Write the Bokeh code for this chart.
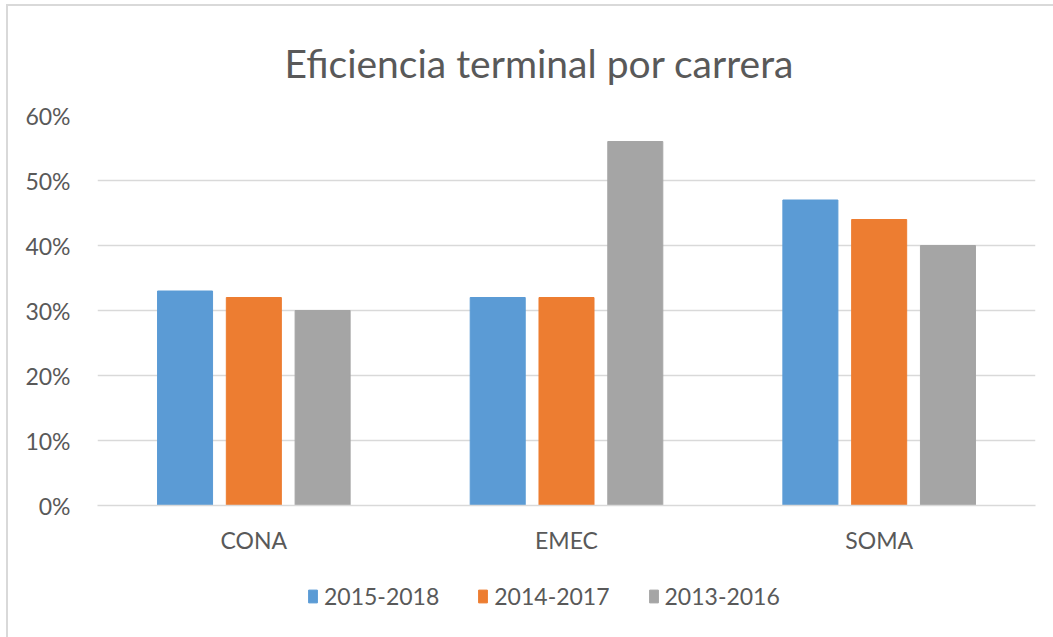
from bokeh.plotting import figure
from bokeh.layouts import column
from bokeh.models import (ColumnDataSource, FactorRange, Range1d, NumeralTickFormatter,
                          Legend, LegendItem, FixedTicker)
from bokeh.transform import dodge
from bokeh.embed import file_html
from bokeh.resources import INLINE

# ---- data ----
categories = ["CONA", "EMEC", "SOMA"]
series_names = ["2015-2018", "2014-2017", "2013-2016"]
s2015_2018 = [0.33, 0.32, 0.47]
s2014_2017 = [0.32, 0.32, 0.44]
s2013_2016 = [0.30, 0.56, 0.40]
y_ticks = [0.0, 0.1, 0.2, 0.3, 0.4, 0.5, 0.6]

colors = ["#5B9BD5", "#ED7D31", "#A5A5A5"]
FONT = "Lato"
TXT = "#595959"

src = ColumnDataSource(dict(cat=categories, s1=s2015_2018, s2=s2014_2017, s3=s2013_2016))
cols = ["s1", "s2", "s3"]
offsets = [-0.22, 0.0, 0.22]

p = figure(x_range=FactorRange(factors=categories, range_padding=0),
           y_range=Range1d(0, 0.6),
           width=1045, height=560,
           output_backend="svg", toolbar_location=None,
           min_border_left=89, min_border_right=18,
           min_border_top=109, min_border_bottom=61)

p.title.text = "Eficiencia terminal por carrera"
p.title.align = "left"
p.title.offset = 187
p.title.text_font = FONT
p.title.text_font_size = "39px"
p.title.text_font_style = "normal"
p.title.text_color = TXT
p.title.standoff = 60

for off, col, c in zip(offsets, cols, colors):
    p.vbar(x=dodge("cat", off, range=p.x_range), top=col, width=0.176,
           source=src, fill_color=c, line_color=c)

p.outline_line_color = None
p.xgrid.grid_line_color = None
p.ygrid.grid_line_color = "#d9d9d9"
p.ygrid.grid_line_width = 1.5
p.yaxis.ticker = FixedTicker(ticks=y_ticks)
p.yaxis.formatter = NumeralTickFormatter(format="0%")
p.yaxis.axis_line_color = None
p.yaxis.major_tick_line_color = None
p.yaxis.minor_tick_line_color = None
p.yaxis.major_label_standoff = 21
p.xaxis.axis_line_color = "#d9d9d9"
p.xaxis.axis_line_width = 1.5
p.xaxis.major_tick_line_color = None
p.xaxis.minor_tick_line_color = None
p.xaxis.major_label_standoff = 14
for ax in (p.xaxis[0], p.yaxis[0]):
    ax.major_label_text_font = FONT
    ax.major_label_text_font_size = "23px"
    ax.major_label_text_color = TXT

# ---- legend strip: same bars, drawn below its visible window, only swatches show ----
lp = figure(width=1045, height=71,
            x_range=FactorRange(factors=categories, range_padding=0),
            y_range=Range1d(1, 2),
            output_backend="svg", toolbar_location=None,
            min_border=0, outline_line_color=None)
lp.axis.visible = False
lp.grid.visible = False
sw = [lp.vbar(x=dodge("cat", off, range=lp.x_range), top=col, width=0.176,
              source=src, fill_color=c, line_color=c)
      for off, col, c in zip(offsets, cols, colors)]
legend = Legend(items=[LegendItem(label=n, renderers=[r]) for n, r in zip(series_names, sw)],
                orientation="horizontal", location=(210, 27))
legend.border_line_color = None
legend.background_fill_alpha = 0
legend.label_text_font = FONT
legend.label_text_font_size = "23px"
legend.label_text_color = TXT
legend.glyph_width = 11
legend.glyph_height = 16
legend.label_standoff = 6
legend.spacing = 38
legend.padding = 0
legend.margin = 0
lp.add_layout(legend, "center")

layout = column(p, lp, spacing=0,
                styles={"margin-left": "6px", "margin-top": "4px",
                        "border-left": "2px solid #d9d9d9",
                        "border-top": "2px solid #d9d9d9"})

open("out.html", "w").write(file_html(layout, INLINE))
